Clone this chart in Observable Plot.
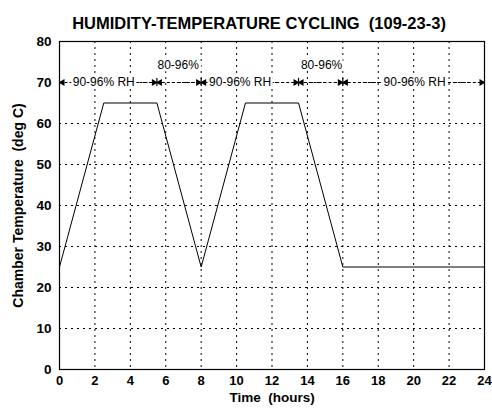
<!DOCTYPE html>
<html>
<head>
<meta charset="utf-8">
<script src="https://cdn.jsdelivr.net/npm/d3@7"></script>
<script src="https://cdn.jsdelivr.net/npm/@observablehq/plot@0.6"></script>
<style>
  body { margin: 0; background: #fff; }
  svg { font-family: "Liberation Sans", Arial, sans-serif; }
</style>
</head>
<body>
<div id="chart"></div>
<script>
const title = "HUMIDITY-TEMPERATURE CYCLING  (109-23-3)";
const xLabel = "Time  (hours)";
const yLabel = "Chamber Temperature  (deg C)";

// temperature profile
const timeHours = [0, 2.5, 5.5, 8, 10.5, 13.5, 16, 24];
const tempC     = [25, 65, 65, 25, 65, 65, 25, 25];

// humidity phase annotations
const phaseStart = [0, 5.5, 8, 13.5, 16];
const phaseEnd   = [5.5, 8, 13.5, 16, 24];
const phaseText  = ["90-96% RH", "80-96%", "90-96% RH", "80-96%", "90-96% RH"];
const phaseLabelX = [2.5, 6.7, 10.2, 14.8, 20.05];
const phaseLabelY = [70, 74.2, 70, 74.2, 70];
const arrowLevel = 70;

const xTicks = d3.range(0, 25, 2);
const yTicks = d3.range(0, 81, 10);

const profile = timeHours.map((t, i) => ({t, v: tempC[i]}));
const phases = phaseStart.map((s, i) => ({s, e: phaseEnd[i], text: phaseText[i], lx: phaseLabelX[i], ly: phaseLabelY[i]}));

const chart = Plot.plot({
  width: 492,
  height: 408,
  marginLeft: 59,
  marginRight: 8,
  marginTop: 41,
  marginBottom: 39,
  style: {fontFamily: "Liberation Sans, Arial, sans-serif", background: "#fff", color: "#000"},
  x: {domain: [0, 24], ticks: xTicks, label: null},
  y: {domain: [0, 80], ticks: yTicks, label: null},
  marks: [
    Plot.ruleX(xTicks.filter(d => d > 0 && d < 24), {stroke: "#000", strokeDasharray: "2,4", strokeWidth: 1}),
    Plot.ruleY(yTicks.filter(d => d > 0 && d < 80), {stroke: "#000", strokeDasharray: "2,4", strokeWidth: 1}),
    Plot.axisX({ticks: xTicks, tickSize: 0, tickPadding: 6, fontSize: 13, fontWeight: "bold", label: null}),
    Plot.axisY({ticks: yTicks, tickSize: 0, tickPadding: 8, fontSize: 13.5, fontWeight: "bold", label: null}),
    // arrow lines
    Plot.link(phases, {x1: "s", x2: "e", y1: arrowLevel, y2: arrowLevel, stroke: "#000", strokeDasharray: "3,2", strokeWidth: 1}),
    // phase boundary bars
    Plot.ruleX(phaseEnd.slice(0, -1), {y1: arrowLevel - 1, y2: arrowLevel + 1, stroke: "#000", strokeWidth: 1.2}),
    // arrowheads
    Plot.dot(phases, {x: "e", y: arrowLevel, symbol: "triangle", rotate: 90, r: 2.6, fill: "#000", stroke: null, dx: -3}),
    Plot.dot(phases, {x: "s", y: arrowLevel, symbol: "triangle", rotate: -90, r: 2.6, fill: "#000", stroke: null, dx: 3}),
    // labels with white halo
    Plot.text(phases, {x: "lx", y: "ly", text: "text", fontSize: 12, fill: "#000", stroke: "white", strokeWidth: 5}),
    // temperature line
    Plot.line(profile, {x: "t", y: "v", stroke: "#000", strokeWidth: 1}),
    Plot.frame({stroke: "#000", strokeWidth: 1.2}),
    // titles
    Plot.text([title], {frameAnchor: "top", dy: -24, dx: -13, fontSize: 16.5, fontWeight: "bold", fill: "#000"}),
    Plot.text([xLabel], {frameAnchor: "bottom", dy: 32, fontSize: 13.5, fontWeight: "bold", fill: "#000"}),
    Plot.text([yLabel], {frameAnchor: "left", textAnchor: "middle", dx: -41, rotate: -90, fontSize: 14, fontWeight: "bold", fill: "#000"})
  ]
});
document.getElementById("chart").appendChild(chart);
</script>
</body>
</html>
